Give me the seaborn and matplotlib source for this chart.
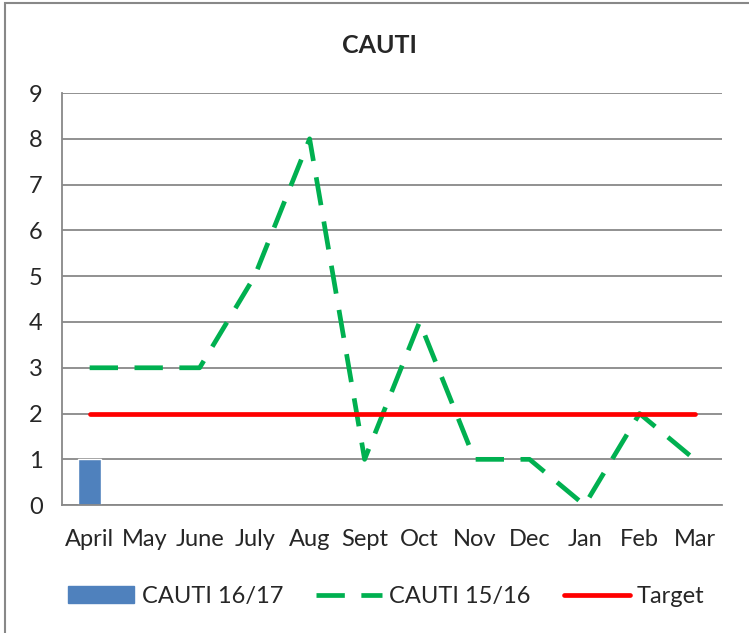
import numpy as np
import pandas as pd
import matplotlib
matplotlib.use("Agg")
import matplotlib.pyplot as plt
import seaborn as sns
from matplotlib.patches import Rectangle
from matplotlib.lines import Line2D

sns.set_style("white")
plt.rcParams['font.family'] = ['Lato', 'DejaVu Sans']

# Data
months = ['April', 'May', 'June', 'July', 'Aug', 'Sept', 'Oct', 'Nov', 'Dec', 'Jan', 'Feb', 'Mar']
cauti_1617 = [1, np.nan, np.nan, np.nan, np.nan, np.nan, np.nan, np.nan, np.nan, np.nan, np.nan, np.nan]
cauti_1516 = [3, 3, 3, 5, 8, 1, 4, 1, 1, 0, 2, 1]
target = [2] * 12

df = pd.DataFrame({'month': months, 'pos': range(len(months)),
                   'CAUTI 16/17': cauti_1617, 'CAUTI 15/16': cauti_1516, 'Target': target})

fig = plt.figure(figsize=(7.49, 6.33), dpi=100)
ax = fig.add_axes([0.083, 0.202, 0.881, 0.651])

sns.barplot(data=df, x='pos', y='CAUTI 16/17', color='#4F81BD', width=0.42,
            saturation=1, ax=ax, order=list(range(12)))
sns.lineplot(data=df, x='pos', y='CAUTI 15/16', color='#00B050', lw=3.4, ax=ax)
ax.lines[-1].set_dashes([6, 3.5])
sns.lineplot(data=df, x='pos', y='Target', color='#FF0000', lw=3.4, ax=ax)

ax.set_xlim(-0.5, 11.5)
ax.set_ylim(0, 9)
ax.set_yticks(range(10))
ax.set_xticks(np.arange(-0.5, 12, 1))
ax.set_xticklabels([])
ax.set_xticks(range(12), minor=True)
ax.set_xticklabels(months, minor=True, fontsize=17)
ax.tick_params(axis='x', which='minor', length=0, pad=17)
ax.tick_params(axis='x', which='major', length=8, color='#888888', width=1.3, direction='out')
ax.tick_params(axis='y', length=8, color='#888888', width=1.3, direction='out', labelsize=17, pad=6)
ax.yaxis.grid(True, color='#888888', lw=1.3)
ax.set_axisbelow(True)
for s in ['top', 'right']:
    ax.spines[s].set_visible(False)
for s in ['left', 'bottom']:
    ax.spines[s].set_color('#888888')
    ax.spines[s].set_linewidth(1.3)
ax.set_xlabel('')
ax.set_ylabel('')

fig.text(0.507, 0.928, 'CAUTI', ha='center', va='center', fontsize=18, fontweight='bold')

handles = [Rectangle((0, 0), 1, 1, color='#4F81BD'),
           Line2D([], [], color='#00B050', lw=3.4, dashes=[6, 3.5]),
           Line2D([], [], color='#FF0000', lw=3.4)]
fig.legend(handles, ['CAUTI 16/17', 'CAUTI 15/16', 'Target'], loc='center',
           bbox_to_anchor=(0.516, 0.058), ncol=3, frameon=False, fontsize=17,
           handlelength=2.8, columnspacing=1.4, handletextpad=0.3)

fig.patches.append(Rectangle((5 / 749, -0.1), 1.2, 1 - 3 / 633 + 0.1, transform=fig.transFigure,
                             fill=False, edgecolor='#888888', lw=1.5))

fig.savefig('out.png', dpi=100)
